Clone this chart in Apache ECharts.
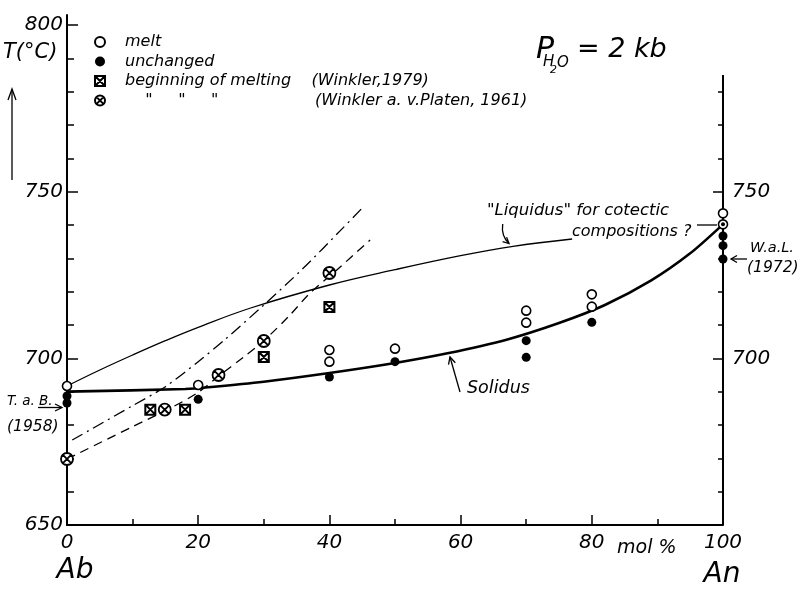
<!DOCTYPE html>
<html>
<head>
<meta charset="utf-8">
<script src="https://cdn.jsdelivr.net/npm/echarts@6/dist/echarts.min.js"></script>
<style>
  html, body { margin: 0; background: #fff; }
  #chart { width: 801px; height: 590px; }
</style>
</head>
<body>
<div id="chart"></div>
<script>
// x = mol % An, y = T (°C)
const meltPts = [[0, 691.7], [20, 692.0], [40, 702.5], [40, 699.0], [50, 702.9], [70, 714.3], [70, 710.7], [80, 719.2], [80, 715.5], [100, 743.5], [100, 740.2]];
const unchangedPts = [[0, 688.7], [0, 686.6], [20, 687.7], [40, 694.4], [50, 699.0], [70, 705.3], [70, 700.3], [80, 710.8], [100, 736.7], [100, 733.8], [100, 729.8]];
const dotPts = [[100, 740.2]];
const winkler79Pts = [[12.7, 684.6], [18, 684.6], [30, 700.4], [40, 715.4]];
const winkler61Pts = [[0, 669.8], [14.9, 684.6], [23.1, 695.0], [30, 705.2], [40, 725.6]];

const solidusLine = [[0, 690.0], [18, 690.8], [22, 691.4], [30, 693.0], [40, 695.6], [50, 698.6], [58, 701.5], [67, 705.6], [75, 710.6], [82, 716.0], [89, 723.3], [95, 731.5], [100, 740.2]];
const liquidusLine = [[0, 691.7], [5, 696.5], [10, 701], [15, 705.3], [20, 709.3], [28, 715.1], [40, 722], [50, 726.6], [60, 730.8], [68, 733.6], [77, 735.8]];
const dashDotLine = [[0.8, 675.5], [10, 685.8], [15, 691.5], [20, 699], [24, 705.5], [30, 716], [36, 727], [42, 739], [45.2, 745.5]];
const dashedLine = [[0, 669.8], [10, 679.5], [16, 685.3], [20, 689.8], [23, 694.5], [27, 700.5], [30, 705.3], [34, 713], [37, 719.5], [41, 726.3], [46.2, 735.5]];
const rightAxisLine = [[100, 650], [100, 785]];

const yMajorLeft = [650, 700, 750, 800];
const yMinorLeft = [660, 670, 680, 690, 710, 720, 730, 740, 760, 770, 780, 790];
const yMajorRight = [700, 750];
const yMinorRight = [660, 670, 680, 690, 710, 720, 730, 740, 760, 770, 780];

const legendNames = [
  'melt',
  'unchanged',
  'beginning of melting    (Winkler,1979)',
  '    "     "     "                   (Winkler a. v.Platen, 1961)'
];

const FONT = '"DejaVu Sans"';
const chart = echarts.init(document.getElementById('chart'));

function txt(text, x, y, size, align) {
  return {
    type: 'text', x: x, y: y,
    style: {
      text: text, font: 'italic ' + size + 'px ' + FONT, fill: '#000',
      textAlign: align || 'left', align: align || 'left',
      textVerticalAlign: 'middle', verticalAlign: 'middle'
    }
  };
}
function pl(points, w) {
  return { type: 'polyline', shape: { points: points }, style: { stroke: '#000', lineWidth: w || 1.3, fill: null } };
}

const boxX = 'path://M0,0L10,0L10,10L0,10Z M0,0L10,10 M10,0L0,10';
const circX = 'path://M10,5A5,5,0,1,1,0,5A5,5,0,1,1,10,5Z M1.6,1.6L8.4,8.4 M8.4,1.6L1.6,8.4';

function yAx(pos, ticks, len, labels, margin, line) {
  return {
    type: 'value', position: pos, min: 650, max: 803,
    axisLine: { show: line, onZero: false, lineStyle: { color: '#000', width: 2 } },
    axisTick: { show: true, inside: true, length: len, customValues: ticks, lineStyle: { color: '#000', width: 1.5 } },
    axisLabel: labels ? { show: true, customValues: labels, margin: margin, color: '#000', fontSize: 20, fontStyle: 'italic', fontFamily: FONT } : { show: false },
    splitLine: { show: false }
  };
}

const option = {
  animation: false,
  backgroundColor: '#fff',
  grid: { left: 67, right: 78, top: 15, bottom: 65 },
  legend: {
    data: legendNames,
    orient: 'vertical', left: 94, top: 34, padding: 0,
    itemWidth: 40, itemHeight: 10, itemGap: 3.5,
    selectedMode: false,
    textStyle: { color: '#000', fontSize: 16, fontStyle: 'italic', fontFamily: FONT }
  },
  xAxis: {
    type: 'value', min: 0, max: 100, interval: 20,
    axisLine: { onZero: false, lineStyle: { color: '#000', width: 2 } },
    axisTick: { inside: true, length: 10, lineStyle: { color: '#000', width: 1.5 } },
    minorTick: { show: true, splitNumber: 2, length: 6, lineStyle: { color: '#000', width: 1.5 } },
    axisLabel: { margin: 8, color: '#000', fontSize: 20, fontStyle: 'italic', fontFamily: FONT },
    splitLine: { show: false }
  },
  yAxis: [
    yAx('left', yMajorLeft, 11, yMajorLeft, 4, true),
    yAx('left', yMinorLeft, 7, null, 0, false),
    yAx('right', yMajorRight, 10, yMajorRight, 9, false),
    yAx('right', yMinorRight, 5, null, 0, false)
  ],
  series: [
    { type: 'line', data: liquidusLine, symbol: 'none', smooth: 0.4, lineStyle: { color: '#000', width: 1.3 } },
    { type: 'line', data: solidusLine, symbol: 'none', smooth: 0.25, lineStyle: { color: '#000', width: 2.6 } },
    { type: 'line', data: dashDotLine, symbol: 'none', smooth: 0.3, lineStyle: { color: '#000', width: 1.3, type: [12, 5, 2, 5] } },
    { type: 'line', data: dashedLine, symbol: 'none', smooth: 0.3, lineStyle: { color: '#000', width: 1.3, type: [9, 6] } },
    { type: 'line', data: rightAxisLine, symbol: 'none', lineStyle: { color: '#000', width: 2 } },
    { name: legendNames[0], type: 'scatter', data: meltPts, symbol: 'circle', symbolSize: 9, z: 5,
      itemStyle: { color: '#fff', borderColor: '#000', borderWidth: 1.6, opacity: 1 } },
    { name: legendNames[1], type: 'scatter', data: unchangedPts, symbol: 'circle', symbolSize: 9, z: 5,
      itemStyle: { color: '#000', opacity: 1 } },
    { type: 'scatter', data: dotPts, symbol: 'circle', symbolSize: 4, z: 6, itemStyle: { color: '#000', opacity: 1 } },
    { name: legendNames[2], type: 'scatter', data: winkler79Pts, symbol: boxX, symbolSize: 10, symbolKeepAspect: true, z: 5,
      itemStyle: { color: '#fff', borderColor: '#000', borderWidth: 2, opacity: 1 } },
    { name: legendNames[3], type: 'scatter', data: winkler61Pts, symbol: circX, symbolSize: 12, symbolKeepAspect: true, z: 5,
      itemStyle: { color: '#fff', borderColor: '#000', borderWidth: 1.8, opacity: 1 } }
  ],
  graphic: [
    // P(H2O) = 2 kb
    txt('P', 536, 50, 30),
    txt('H', 543, 62, 15),
    txt('2', 550, 70, 11),
    txt('O', 557, 63, 15),
    txt('= 2 kb', 577, 50, 27),
    // axis titles
    txt('T(°C)', 3, 53, 21),
    pl([[12, 180], [12, 90]]),
    pl([[8, 100], [12, 89], [16, 100]]),
    txt('mol %', 617, 548, 19),
    txt('Ab', 75, 571, 28, 'center'),
    txt('An', 722, 575, 28, 'center'),
    // references at the axes
    txt('T. a. B.', 7, 401, 13.5),
    txt('(1958)', 7, 427, 15.5),
    pl([[38, 407.5], [62, 407.5]]),
    pl([[55, 404], [62, 407.5], [55, 411]]),
    txt('W.a.L.', 750, 248, 14.5),
    txt('(1972)', 747, 268, 15.5),
    pl([[747, 259], [731, 259]]),
    pl([[737, 255.5], [731, 259], [737, 262.5]]),
    // curve labels
    txt('"Liquidus" for cotectic', 487, 211, 16.5),
    txt('compositions ?', 572, 232, 16),
    pl([[697, 225], [717, 225]]),
    { type: 'bezierCurve', shape: { x1: 502.7, y1: 224, x2: 509, y2: 243.5, cpx1: 501, cpy1: 236 },
      style: { stroke: '#000', lineWidth: 1.3, fill: null } },
    pl([[502.6, 241.6], [509, 243.5], [506.6, 237.2]]),
    txt('Solidus', 467, 388, 17.5),
    pl([[460, 392], [450, 357]]),
    pl([[448.5, 364.7], [450, 357], [455.3, 362.8]])
  ]
};

chart.setOption(option);
</script>
</body>
</html>
